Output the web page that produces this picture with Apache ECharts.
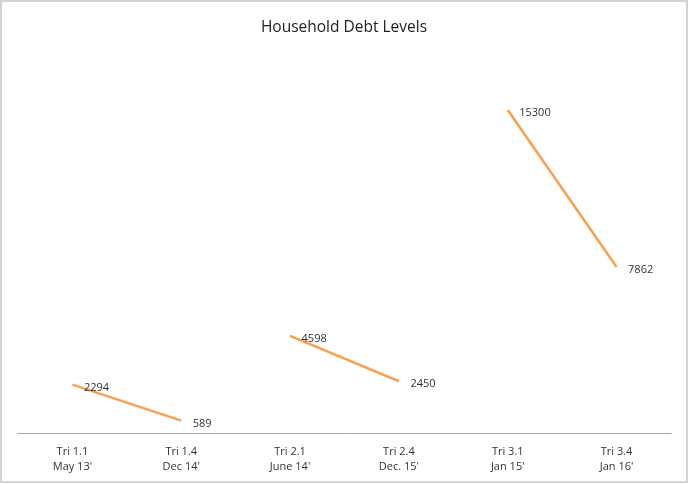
<!DOCTYPE html>
<html>
<head>
<meta charset="utf-8">
<script src="https://cdn.jsdelivr.net/npm/echarts@6/dist/echarts.min.js"></script>
<style>
  html, body { margin: 0; padding: 0; background: #fff; }
  #chart { width: 684px; height: 479px; border: 2px solid #d4d4d4; }
</style>
</head>
<body>
<div id="chart"></div>
<script>
var categories = ["Tri 1.1\nMay 13'", "Tri 1.4\nDec 14'", "Tri 2.1\nJune 14'", "Tri 2.4\nDec. 15'", "Tri 3.1\nJan 15'", "Tri 3.4\nJan 16'"];
var tri1 = [2294, 589, null, null, null, null];
var tri2 = [null, null, 4598, 2450, null, null];
var tri3 = [null, null, null, null, 15300, 7862];

var font = "'Open Sans', 'Noto Sans', sans-serif";
var lineColor = '#f9a04e';

function segment(data) {
	return {
		type: 'line',
		data: data,
		symbol: 'circle',
		symbolSize: 1,
		showSymbol: true,
		connectNulls: false,
		itemStyle: { color: 'rgba(0,0,0,0)' },
		lineStyle: { color: lineColor, width: 2.5 },
		label: {
			show: true,
			position: 'right',
			distance: 10,
			offset: [1, 3],
			color: '#333',
			fontSize: 11,
			fontFamily: font
		}
	};
}

var chart = echarts.init(document.getElementById('chart'));
chart.setOption({
	animation: false,
	title: {
		text: 'Household Debt Levels',
		left: 'center',
		top: 13,
		textStyle: { fontSize: 15.5, fontWeight: 'normal', color: '#222', fontFamily: font }
	},
	grid: { left: 16, right: 15, top: 51, bottom: 48 },
	xAxis: {
		type: 'category',
		data: categories,
		boundaryGap: true,
		axisLine: { lineStyle: { color: '#a6a6a6', width: 1 } },
		axisTick: { show: false },
		axisLabel: { color: '#333', fontSize: 11, fontFamily: font, lineHeight: 15, margin: 11 }
	},
	yAxis: {
		type: 'value',
		min: 0,
		max: 18000,
		show: false,
		splitLine: { show: false }
	},
	series: [segment(tri1), segment(tri2), segment(tri3)]
});
</script>
</body>
</html>
